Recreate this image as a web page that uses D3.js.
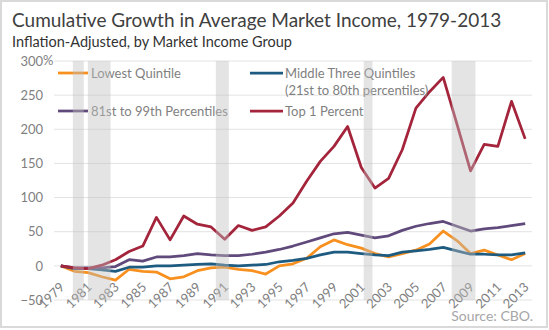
<!DOCTYPE html>
<html>
<head>
<meta charset="utf-8">
<script src="https://cdn.jsdelivr.net/npm/d3@7"></script>
<style>
  body { margin: 0; background: #ffffff; }
  svg { display: block; font-family: Lato, 'Open Sans', sans-serif; }
</style>
</head>
<body>
<svg id="canvas"></svg>
<script>
////////////////////////////////////////////////////////////////////////////////
// Data.
////////////////////////////////////////////////////////////////////////////////
var years = d3.range(1979, 2014);

var lowestQuintile = [0, -8, -10, -16, -21, -5, -8, -9, -19, -16, -7, -3, -2, -5, -7, -12,
  0, 3, 11, 28, 38, 31, 26, 18, 13, 18, 23, 32, 51, 37, 18, 23, 16, 9, 18];

var middleQuintiles = [0, -4, -4, -6, -8, -2, -2, 0, 0, 1, 2, 3, 1, 0, 1, 2,
  6, 8, 11, 16, 20, 20, 18, 16, 15, 20, 22, 24, 27, 22, 17, 17, 16, 16, 19];

var percentiles81to99 = [0, -3, -3, -3, -1, 9, 7, 13, 13, 15, 18, 16, 15, 15, 17, 20,
  24, 29, 35, 41, 47, 49, 45, 41, 44, 52, 58, 62, 65, 58, 51, 54, 56, 59, 62];

var top1Percent = [0, -3, -4, 1, 9, 21, 29, 71, 38, 73, 61, 57, 39, 59, 52, 57,
  73, 92, 124, 153, 175, 204, 144, 114, 128, 170, 231, 255, 276, 208, 139, 178, 175, 241, 186];

// Recession periods (fractional years).
var recessionStart = [1979.88, 1980.98, 1990.35, 2001.18, 2007.62];
var recessionEnd = [1980.68, 1982.64, 1991.3, 2001.82, 2009.36];

// Axis ticks.
var yTicks = [-50, 0, 50, 100, 150, 200, 250, 300];
var xTickYears = d3.range(1979, 2014, 2);

// Series names and colours.
var seriesNames = ['Lowest Quintile', 'Middle Three Quintiles', '81st to 99th Percentiles', 'Top 1 Percent'];
var seriesColours = ['#f7901e', '#1e5b80', '#604a7b', '#a3243b'];
var seriesValues = [lowestQuintile, middleQuintiles, percentiles81to99, top1Percent];

////////////////////////////////////////////////////////////////////////////////
// Canvas.
////////////////////////////////////////////////////////////////////////////////
var canvas = { width: 549, height: 330 };
var plot = { left: 54, right: 532, top: 61, bottom: 300 };

var svg = d3.select('#canvas')
            .attr('width', canvas.width)
            .attr('height', canvas.height);

// Outer border.
svg.append('rect')
   .attr('x', 1).attr('y', 1)
   .attr('width', canvas.width - 3).attr('height', canvas.height - 4)
   .attr('fill', '#ffffff')
   .attr('stroke', '#d9d9d9')
   .attr('stroke-width', 2);

// Scales.
var xScale = d3.scaleLinear()
               .domain([1978.5, 2013.5])
               .range([plot.left, plot.right]);

var yScale = d3.scaleLinear()
               .domain([-50, 300])
               .range([plot.bottom, plot.top]);

// Titles.
svg.append('text')
   .attr('x', 12).attr('y', 27)
   .attr('fill', '#404040')
   .style('font-size', '19px')
   .text('Cumulative Growth in Average Market Income, 1979-2013');

svg.append('text')
   .attr('x', 12).attr('y', 47)
   .attr('fill', '#333333')
   .style('font-size', '14.5px')
   .text('Inflation-Adjusted, by Market Income Group');

// Gridlines.
svg.append('g')
   .selectAll('line')
   .data(yTicks)
   .enter()
   .append('line')
   .attr('x1', plot.left).attr('x2', plot.right)
   .attr('y1', function(d) { return yScale(d) })
   .attr('y2', function(d) { return yScale(d) })
   .attr('stroke', '#e3e3e3')
   .attr('stroke-width', 1);

// Vertical axis labels.
var yAxis = d3.axisLeft(yScale)
              .tickValues(yTicks)
              .tickSize(0)
              .tickPadding(0);

var yAxisGroup = svg.append('g')
                    .attr('transform', 'translate(43,0)')
                    .call(yAxis);
yAxisGroup.select('.domain').remove();
yAxisGroup.selectAll('text')
          .attr('fill', '#7f7f7f')
          .style('font-size', '13px')
          .style('font-family', 'Lato, sans-serif');

// Percent sign after the top label.
svg.append('text')
   .attr('x', 43).attr('y', yScale(300))
   .attr('dy', '0.32em')
   .attr('fill', '#7f7f7f')
   .style('font-size', '13px')
   .text('%');

// Horizontal axis labels.
var xAxis = d3.axisBottom(xScale)
              .tickValues(xTickYears)
              .tickFormat(d3.format('d'))
              .tickSize(0);

var xAxisGroup = svg.append('g')
                    .attr('transform', 'translate(0,' + 288 + ')')
                    .call(xAxis);
xAxisGroup.select('.domain').remove();
xAxisGroup.selectAll('text')
          .attr('fill', '#7f7f7f')
          .attr('text-anchor', 'end')
          .attr('y', 0)
          .attr('dy', 0)
          .attr('transform', 'translate(4,0) rotate(-45)')
          .style('font-size', '13px')
          .style('font-family', 'Lato, sans-serif');

// Lines.
var line = d3.line()
             .x(function(d, i) { return xScale(years[i]) })
             .y(function(d) { return yScale(d) });

svg.append('g')
   .selectAll('path')
   .data(seriesValues)
   .enter()
   .append('path')
   .attr('d', line)
   .attr('fill', 'none')
   .attr('stroke', function(d, i) { return seriesColours[i] })
   .attr('stroke-width', 2.75)
   .attr('stroke-linejoin', 'round');

// Legend.
var legendPos = [[58, 73], [250, 73], [58, 111], [250, 111]];
var legend = svg.selectAll('.legend')
                .data(seriesNames)
                .enter()
                .append('g')
                .attr('class', 'legend')
                .attr('transform', function(d, i) {
                  return 'translate(' + legendPos[i][0] + ',' + legendPos[i][1] + ')';
                });

legend.append('line')
      .attr('x1', 0).attr('x2', function(d, i) { return i % 2 ? 33 : 30 })
      .attr('y1', 0).attr('y2', 0)
      .attr('stroke', function(d, i) { return seriesColours[i] })
      .attr('stroke-width', 2.75);

legend.append('text')
      .attr('x', function(d, i) { return i % 2 ? 35 : 33 })
      .attr('y', 4.5)
      .attr('fill', '#7f7f7f')
      .style('font-size', '13px')
      .text(function(d) { return d });

// Second line of the middle quintiles label.
svg.append('text')
   .attr('x', 285).attr('y', 94.5)
   .attr('fill', '#7f7f7f')
   .style('font-size', '13px')
   .text('(21st to 80th percentiles)');

// Recession shading, drawn over everything in the plot.
svg.append('g')
   .selectAll('rect')
   .data(recessionStart)
   .enter()
   .append('rect')
   .attr('x', function(d) { return xScale(d) })
   .attr('width', function(d, i) { return xScale(recessionEnd[i]) - xScale(d) })
   .attr('y', yScale(300))
   .attr('height', yScale(-50) - yScale(300))
   .attr('fill', '#bfbfbf')
   .attr('fill-opacity', 0.42);

// Source.
svg.append('text')
   .attr('x', 533).attr('y', 321)
   .attr('text-anchor', 'end')
   .attr('fill', '#a6a6a6')
   .style('font-size', '14px')
   .text('Source: CBO.');
</script>
</body>
</html>
